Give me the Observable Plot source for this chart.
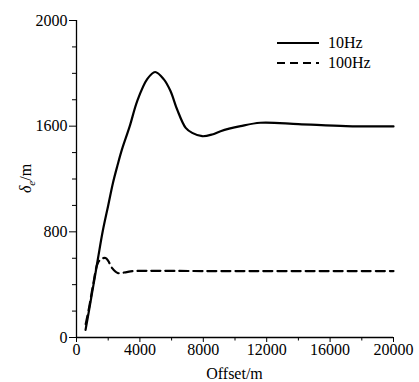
<!DOCTYPE html>
<html>
<head>
<meta charset="utf-8">
<script src="https://cdn.jsdelivr.net/npm/d3@7"></script>
<script src="https://cdn.jsdelivr.net/npm/@observablehq/plot@0.6"></script>
<style>
  html, body { margin: 0; padding: 0; background: #fff; }
  #chart svg { display: block; }
  #chart svg, #chart svg text { font-family: "Liberation Serif", "Times New Roman", Times, "DejaVu Serif", serif !important; }
</style>
</head>
<body>
<div id="chart"></div>
<script>
// ---- data ----
const offset10 = [570, 783, 1073, 1357, 1660, 2000, 2300, 2580, 2860, 3360, 3830, 4460, 4960, 5500, 5930, 6350, 6890, 7300, 7930, 8560, 9090, 10350, 11600, 14000, 17000, 20000];
const delta10  = [58, 200, 400, 600, 808, 1000, 1170, 1300, 1420, 1600, 1695, 1778, 1805, 1778, 1733, 1663, 1587, 1549, 1524, 1537, 1562, 1600, 1613, 1608, 1600, 1598];

const offset100 = [580, 800, 1050, 1350, 1600, 1830, 2000, 2250, 2600, 3000, 3600, 4500, 8000, 20000];
const delta100  = [100, 230, 400, 565, 596, 602, 580, 525, 488, 492, 503, 505, 503, 503];

const seriesNames = ["10Hz", "100Hz"];
const xTicksMajor = [0, 4000, 8000, 12000, 16000, 20000];
const xTicksMinor = [2000, 6000, 10000, 14000, 18000];
const yTicksMajor = [0, 800, 1600, 2000];
const yTicksMinor = [200, 400, 600, 1000, 1200, 1400, 1700, 1800, 1900];
const xLabel = "Offset/m";

const data10 = offset10.map((x, i) => ({x, y: delta10[i]}));
const data100 = offset100.map((x, i) => ({x, y: delta100[i]}));

const W = 419, H = 382;
const mL = 76, mR = 26, mT = 20, mB = 45;
const yTop = mT, yBot = H - mB;
const seg = (yBot - yTop) / 3;
const font = "Liberation Serif, Times New Roman, Times, DejaVu Serif, serif";

const plot = Plot.plot({
  width: W,
  height: H,
  marginLeft: mL,
  marginRight: mR,
  marginTop: mT,
  marginBottom: mB,
  style: {fontFamily: font, fontSize: "16px", color: "#000", background: "#fff", overflow: "visible"},
  x: {domain: [0, 20000], label: null},
  y: {type: "linear", domain: yTicksMajor, range: [yBot, yBot - seg, yBot - 2 * seg, yTop], label: null},
  marks: [
    Plot.axisX(xTicksMajor, {tickSize: 5, tickPadding: 1, tickFormat: d => String(d), label: null, fontSize: 16}),
    Plot.axisX(xTicksMinor, {tickSize: 3.5, tickFormat: () => "", label: null}),
    Plot.axisY(yTicksMajor, {tickSize: 7, tickPadding: 2, tickFormat: d => String(d), label: null, fontSize: 16}),
    Plot.axisY(yTicksMinor, {tickSize: 4, tickFormat: () => "", label: null}),
    Plot.ruleX([0], {stroke: "#000", strokeWidth: 1.3}),
    Plot.ruleY([0], {stroke: "#000", strokeWidth: 1.3}),
    Plot.line(data10, {x: "x", y: "y", stroke: "#000", strokeWidth: 2.2, curve: "catmull-rom"}),
    Plot.line(data100, {x: "x", y: "y", stroke: "#000", strokeWidth: 2.2, strokeDasharray: "9,5", curve: "catmull-rom"})
  ]
});

document.getElementById("chart").appendChild(plot);

// axis titles and legend
const svg = d3.select(plot);

const yl = svg.append("text")
  .attr("transform", `translate(31, ${(yTop + yBot) / 2}) rotate(-90)`)
  .attr("text-anchor", "middle")
  .attr("font-size", 16)
  .attr("fill", "#000");
yl.append("tspan").attr("font-style", "italic").text("δ");
yl.append("tspan").attr("font-style", "italic").attr("font-size", 11).attr("dy", 4).text("e");
yl.append("tspan").attr("dy", -4).text("/m");

svg.append("text")
  .attr("x", (mL + W - mR) / 2)
  .attr("y", 379)
  .attr("text-anchor", "middle")
  .attr("font-size", 16)
  .attr("fill", "#000")
  .text(xLabel);

const legend = [
  {name: seriesNames[0], dash: null, y: 43},
  {name: seriesNames[1], dash: "8,5", y: 63}
];
for (const l of legend) {
  const ln = svg.append("line")
    .attr("x1", 277).attr("x2", 319)
    .attr("y1", l.y).attr("y2", l.y)
    .attr("stroke", "#000").attr("stroke-width", 2.2);
  if (l.dash) ln.attr("stroke-dasharray", l.dash);
  svg.append("text")
    .attr("x", 328).attr("y", l.y + 5)
    .attr("text-anchor", "start")
    .attr("font-size", 16)
    .attr("fill", "#000")
    .text(l.name);
}
</script>
</body>
</html>
